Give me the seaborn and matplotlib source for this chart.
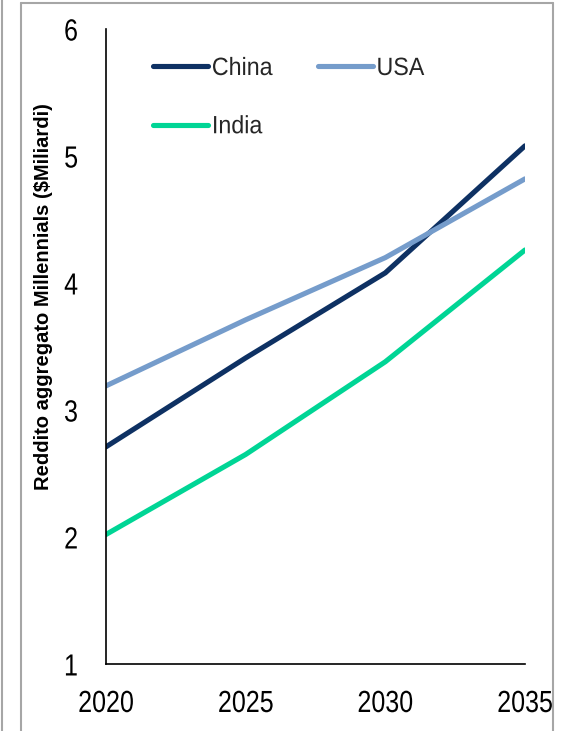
import matplotlib
matplotlib.use("Agg")
import matplotlib.pyplot as plt
from matplotlib.lines import Line2D
from matplotlib.patheffects import AbstractPathEffect
from matplotlib.transforms import Affine2D
import pandas as pd
import seaborn as sns

years = [2020, 2025, 2030, 2035]
china = [2.71, 3.41, 4.08, 5.08]
usa = [3.19, 3.71, 4.20, 4.82]
india = [2.02, 2.65, 3.38, 4.26]
series_names = ["China", "USA", "India"]
series_colors = ["#0E3163", "#759CCB", "#00D595"]
y_ticks = [1, 2, 3, 4, 5, 6]
y_label = "Reddito aggregato Millennials ($Miliardi)"


class Condensed(AbstractPathEffect):
    """Squeeze glyphs along the text direction (narrow typeface look)."""

    def __init__(self, sx, anchor="center"):
        super().__init__()
        self.sx = sx
        self.anchor = anchor

    def draw_path(self, renderer, gc, tpath, affine, rgbFace=None):
        ext = tpath.get_extents()
        if self.anchor == "right":
            cx = ext.x1
        elif self.anchor == "left":
            cx = ext.x0
        else:
            cx = 0.5 * (ext.x0 + ext.x1)
        squeeze = Affine2D().translate(-cx, 0).scale(self.sx, 1).translate(cx, 0)
        renderer.draw_path(gc, tpath, squeeze + affine, rgbFace)


df = pd.DataFrame({
    "Anno": years * 3,
    "Valore": china + usa + india,
    "Paese": [n for n, vals in zip(series_names, [china, usa, india]) for _ in vals],
})

sns.set_theme(style="white")
plt.rcParams["font.family"] = ["Liberation Sans", "DejaVu Sans"]

fig = plt.figure(figsize=(5.65, 7.31), dpi=100)
ax = fig.add_axes([106 / 565, 67 / 731, 419 / 565, 635 / 731])

sns.lineplot(
    data=df, x="Anno", y="Valore", hue="Paese",
    hue_order=series_names, palette=series_colors,
    linewidth=3.7, ax=ax, legend=True,
)
for line in ax.get_lines():
    line.set_solid_capstyle("round")

ax.set_xlim(years[0], years[-1])
ax.set_ylim(y_ticks[0], y_ticks[-1])
ax.set_xticks(years)
ax.set_xticklabels([str(y) for y in years])
ax.set_yticks(y_ticks)
ax.set_yticklabels([str(v) for v in y_ticks])
ax.tick_params(axis="x", length=0, pad=18, labelsize=22, colors="black")
ax.tick_params(axis="y", length=0, pad=20, labelsize=22, colors="black")
for lab in ax.get_xticklabels():
    lab.set_clip_on(False)
    lab.set_path_effects([Condensed(0.82, "center")])
for lab in ax.get_yticklabels():
    lab.set_path_effects([Condensed(0.82, "right")])

ax.set_xlabel("")
ax.set_ylabel(y_label, fontsize=14.5, fontweight="bold", color="black")
ax.yaxis.set_label_coords((53 - 106) / 419, (664 - 297) / 635)

for side in ["top", "right"]:
    ax.spines[side].set_visible(False)
for side in ["left", "bottom"]:
    ax.spines[side].set_color("black")
    ax.spines[side].set_linewidth(1.2)

# Legend: China and USA on the first row, India below China
handles, labels = ax.get_legend_handles_labels()
order = [labels.index(n) for n in ["China", "India", "USA"]]
leg = ax.legend(
    [handles[i] for i in order], [labels[i] for i in order],
    ncol=2, frameon=False, loc="upper left",
    bbox_to_anchor=((153 - 106) / 419, (664 - 56) / 635), fontsize=18,
    borderpad=0, borderaxespad=0,
    handlelength=2.2, handletextpad=0.15, columnspacing=1.62,
    labelspacing=1.37,
)
for h in leg.get_lines():
    h.set_linewidth(3.7)
    h.set_solid_capstyle("round")
for t in leg.get_texts():
    t.set_path_effects([Condensed(0.93, "left")])

# Outer panel frame
frame_kw = dict(color="#A6A6A6", linewidth=1.5, transform=fig.transFigure)
fig.add_artist(Line2D([21 / 565, 21 / 565], [0, 1 - 3 / 731], **frame_kw))
fig.add_artist(Line2D([21 / 565, 553 / 565], [1 - 3 / 731, 1 - 3 / 731], **frame_kw))
fig.add_artist(Line2D([553 / 565, 553 / 565], [0, 1 - 3 / 731], **frame_kw))
fig.add_artist(Line2D([2 / 565, 2 / 565], [0, 1], **frame_kw))

fig.savefig("out.png", dpi=100)
